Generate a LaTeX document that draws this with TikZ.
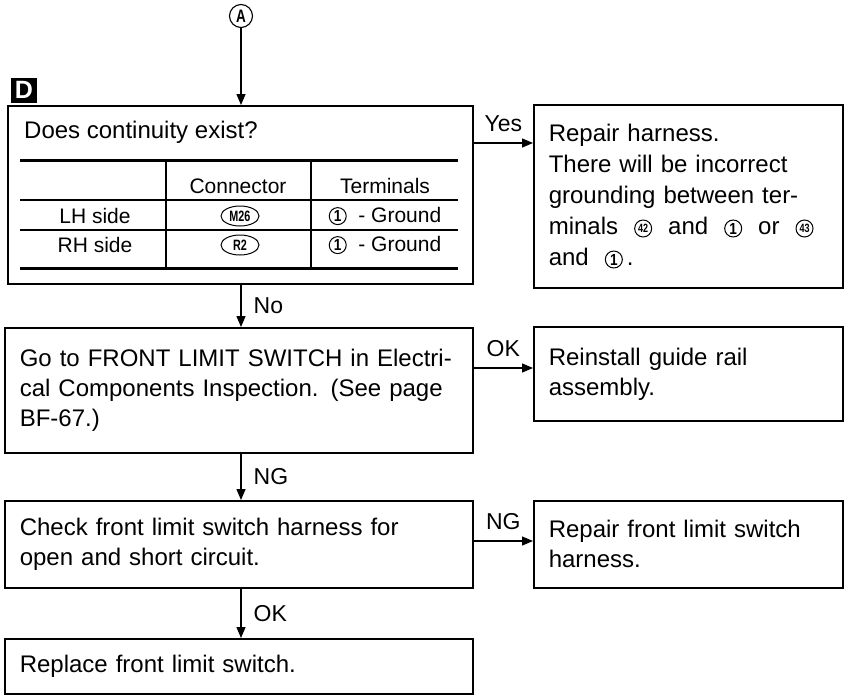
\documentclass[tikz,border=0pt]{standalone}
\usepackage{fontspec}
\setsansfont{Liberation Sans}
\usepackage{graphicx}
\usetikzlibrary{positioning,arrows.meta,shapes.geometric,calc}

% circled terminal numbers and connector ellipses
\tikzset{glyph/.style={anchor=center, text width=, align=center, minimum width=0pt, minimum height=0pt,
  inner sep=0pt, draw=none}}
\newcommand{\tnum}[1]{\tikz[baseline=-6pt]{\draw[line width=1pt] (0,0) circle[radius=8.5pt];
  \node[glyph, font=\sffamily\bfseries\fontsize{16}{16}\selectfont] (tn) at (0,0) {\scalebox{0.85}[1]{#1}};}}
\newcommand{\tnumsmall}[1]{\tikz[baseline=-6pt]{\draw[line width=1pt] (0,0) circle[radius=8.5pt];
  \node[glyph, font=\sffamily\bfseries\fontsize{12}{12}\selectfont] (ts) at (0,0) {\scalebox{0.75}[1]{#1}};}}
\newcommand{\connid}[1]{\tikz[baseline=-6pt]{\draw[line width=1pt] (0,0) ellipse[x radius=19pt, y radius=10pt];
  \node[glyph, font=\sffamily\bfseries\fontsize{15}{15}\selectfont] (cid) at (0,0) {\scalebox{0.72}[1]{#1}};}}

\begin{document}
\begin{tikzpicture}[
  x=1pt, y=1pt,
  font=\sffamily,
  box/.style={draw, line width=1.6pt, anchor=north west, align=left, inner xsep=18pt, inner ysep=3pt,
    font=\sffamily\fontsize{24}{30}\selectfont},
  wide/.style={box, minimum width=468pt, text width=438pt, inner xsep=15pt},
  narrow/.style={box, minimum width=309pt, text width=279pt, inner xsep=15pt},
  flow/.style={-{Triangle[length=11pt,width=9pt]}, line width=1.3pt},
  answer/.style={font=\sffamily\fontsize{23}{23}\selectfont, inner sep=2pt},
  cell/.style={font=\sffamily\fontsize{21}{21}\selectfont, inner sep=0pt},
  heavyrule/.style={line width=3pt},
  lightrule/.style={line width=1.2pt},
]
\useasboundingbox (0,0) rectangle (848,-696);

% Entry point and step tag
\node[circle, draw, line width=1.1pt, minimum size=23pt, inner sep=0pt,
      font=\sffamily\bfseries\fontsize{18}{18}\selectfont] (entry) at (241,-16) {\scalebox{0.75}[1]{A}};
\node[fill=black, text=white, minimum width=26pt, minimum height=25pt, inner sep=0pt,
      font=\sffamily\bfseries\fontsize{25}{25}\selectfont] (tag) at (24,-90) {D};

% Step D: continuity check
\node[box, minimum width=465pt, minimum height=178pt] (check) at (7,-105) {};
\node[anchor=base west, inner sep=0pt, font=\sffamily\fontsize{24}{24}\selectfont] (question) at (24,-138)
  {Does continuity exist?};

% Table inside the check box
\draw[heavyrule] (20,-160) -- (458,-160);
\draw[lightrule] (20,-200) -- (458,-200);
\draw[lightrule] (20,-230) -- (458,-230);
\draw[heavyrule] (20,-268) -- (458,-268);
\draw[lightrule] (166,-160) -- (166,-268);
\draw[lightrule] (311,-160) -- (311,-268);

\node[cell] (hconn) at (238,-186) {Connector};
\node[cell] (hterm) at (385,-186) {Terminals};
\node[cell] (lh) at (95,-216) {LH side};
\node[cell] (rh) at (95,-245) {RH side};
\node[cell] (lhconn) at (240,-216) {\connid{M26}};
\node[cell] (rhconn) at (240,-245) {\connid{R2}};
\node[cell] (lhterm) at (385,-216) {\tnum{1}\ \ - Ground};
\node[cell] (rhterm) at (385,-245) {\tnum{1}\ \ - Ground};

% Right column
\node[narrow, minimum height=183pt, font=\sffamily\fontsize{24}{31}\selectfont] (repair) at (533,-104)
  {Repair harness.\\There will be incorrect\\grounding between ter-\\minals\ \ \tnumsmall{42}\ \ and\ \ \tnum{1}\ \ or\ \ \tnumsmall{43}\\and\ \ \tnum{1}\,.};
\node[narrow, minimum height=94pt] (reinstall) at (533,-326) {Reinstall guide rail\\assembly.};
\node[narrow, minimum height=87pt] (repairsw) at (533,-500) {Repair front limit switch\\harness.};

% Left column
\node[wide, minimum height=125pt] (inspect) at (4,-327)
  {Go to FRONT LIMIT SWITCH in Electri-\\cal Components Inspection. (See page\\BF-67.)};
\node[wide, minimum height=87pt] (harness) at (4,-500)
  {Check front limit switch harness for\\open and short circuit.};
\node[wide, minimum height=55pt] (replace) at (4,-638) {Replace front limit switch.};

% Connectors
\draw[flow] (entry.south) -- (entry |- check.north);
\draw[flow] ([yshift=-38pt]check.north east) -- ([yshift=-38pt]check.north east -| repair.west)
  node[answer, midway, above=9pt] (yes) {Yes};
\draw[flow] (entry |- check.south) -- (entry |- inspect.north)
  node[answer, midway, right=10pt] (no) {No};
\draw[flow] ([yshift=-41pt]inspect.north east) -- ([yshift=-41pt]inspect.north east -| reinstall.west)
  node[answer, midway, above=9pt] (ok1) {OK};
\draw[flow] (entry |- inspect.south) -- (entry |- harness.north)
  node[answer, midway, right=10pt] (ng1) {NG};
\draw[flow] ([yshift=-41pt]harness.north east) -- ([yshift=-41pt]harness.north east -| repairsw.west)
  node[answer, midway, above=9pt] (ng2) {NG};
\draw[flow] (entry |- harness.south) -- (entry |- replace.north)
  node[answer, midway, right=10pt] (ok2) {OK};

\end{tikzpicture}
\end{document}
